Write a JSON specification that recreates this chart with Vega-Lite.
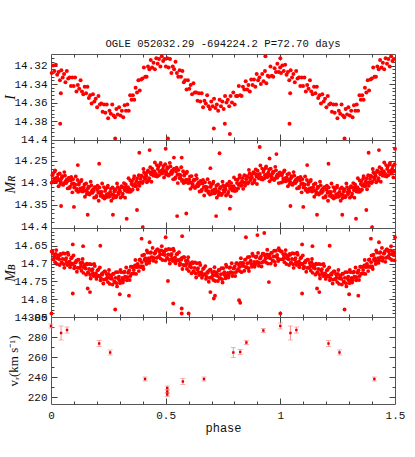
{
"$schema":"https://vega.github.io/schema/vega-lite/v6.json",
"padding":{"left":2,"top":38,"right":5,"bottom":5},
"background":"white",
"bounds":"flush",
"spacing":0,
"config":{"view":{"stroke":"#555","strokeWidth":1},"axis":{"domain":false,"grid":false,"tickColor":"#444","tickWidth":1,"labelFont":"Liberation Mono","labelFontSize":11,"labelColor":"#111","titleColor":"#111","titleFontWeight":"normal","labelFlush":false,"labelOverlap":false}},
"datasets":{
"T":[{"a":0}],
"I":[{"p":0.003,"m":14.328},{"p":0.009,"m":14.32},{"p":0.015,"m":14.326},{"p":0.021,"m":14.319},{"p":0.027,"m":14.33},{"p":0.033,"m":14.327},{"p":0.039,"m":14.336},{"p":0.045,"m":14.325},{"p":0.051,"m":14.333},{"p":0.057,"m":14.329},{"p":0.063,"m":14.338},{"p":0.069,"m":14.326},{"p":0.075,"m":14.334},{"p":0.081,"m":14.333},{"p":0.087,"m":14.342},{"p":0.093,"m":14.333},{"p":0.099,"m":14.342},{"p":0.105,"m":14.333},{"p":0.111,"m":14.348},{"p":0.117,"m":14.341},{"p":0.123,"m":14.345},{"p":0.129,"m":14.336},{"p":0.135,"m":14.348},{"p":0.141,"m":14.351},{"p":0.147,"m":14.343},{"p":0.153,"m":14.35},{"p":0.159,"m":14.343},{"p":0.165,"m":14.355},{"p":0.171,"m":14.352},{"p":0.177,"m":14.361},{"p":0.183,"m":14.351},{"p":0.189,"m":14.359},{"p":0.195,"m":14.356},{"p":0.201,"m":14.365},{"p":0.207,"m":14.353},{"p":0.213,"m":14.362},{"p":0.219,"m":14.361},{"p":0.225,"m":14.37},{"p":0.231,"m":14.362},{"p":0.237,"m":14.371},{"p":0.243,"m":14.362},{"p":0.249,"m":14.377},{"p":0.255,"m":14.369},{"p":0.261,"m":14.372},{"p":0.267,"m":14.362},{"p":0.273,"m":14.374},{"p":0.279,"m":14.376},{"p":0.285,"m":14.367},{"p":0.291,"m":14.373},{"p":0.297,"m":14.365},{"p":0.303,"m":14.374},{"p":0.309,"m":14.369},{"p":0.315,"m":14.376},{"p":0.321,"m":14.363},{"p":0.327,"m":14.369},{"p":0.333,"m":14.362},{"p":0.339,"m":14.369},{"p":0.345,"m":14.352},{"p":0.351,"m":14.357},{"p":0.357,"m":14.352},{"p":0.363,"m":14.357},{"p":0.369,"m":14.344},{"p":0.375,"m":14.349},{"p":0.381,"m":14.336},{"p":0.387,"m":14.347},{"p":0.393,"m":14.335},{"p":0.399,"m":14.334},{"p":0.405,"m":14.322},{"p":0.411,"m":14.332},{"p":0.417,"m":14.332},{"p":0.423,"m":14.321},{"p":0.429,"m":14.324},{"p":0.435,"m":14.314},{"p":0.441,"m":14.322},{"p":0.447,"m":14.317},{"p":0.453,"m":14.324},{"p":0.459,"m":14.312},{"p":0.465,"m":14.318},{"p":0.471,"m":14.313},{"p":0.477,"m":14.321},{"p":0.483,"m":14.31},{"p":0.489,"m":14.315},{"p":0.495,"m":14.313},{"p":0.501,"m":14.321},{"p":0.507,"m":14.312},{"p":0.513,"m":14.322},{"p":0.519,"m":14.313},{"p":0.525,"m":14.328},{"p":0.531,"m":14.321},{"p":0.537,"m":14.324},{"p":0.543,"m":14.316},{"p":0.549,"m":14.328},{"p":0.555,"m":14.332},{"p":0.561,"m":14.325},{"p":0.567,"m":14.332},{"p":0.573,"m":14.326},{"p":0.579,"m":14.338},{"p":0.585,"m":14.336},{"p":0.591,"m":14.346},{"p":0.597,"m":14.336},{"p":0.603,"m":14.345},{"p":0.609,"m":14.341},{"p":0.615,"m":14.351},{"p":0.621,"m":14.339},{"p":0.627,"m":14.349},{"p":0.633,"m":14.349},{"p":0.639,"m":14.358},{"p":0.645,"m":14.35},{"p":0.651,"m":14.359},{"p":0.657,"m":14.35},{"p":0.663,"m":14.365},{"p":0.669,"m":14.358},{"p":0.675,"m":14.361},{"p":0.681,"m":14.352},{"p":0.687,"m":14.364},{"p":0.693,"m":14.367},{"p":0.699,"m":14.359},{"p":0.705,"m":14.364},{"p":0.711,"m":14.356},{"p":0.717,"m":14.366},{"p":0.723,"m":14.362},{"p":0.729,"m":14.369},{"p":0.735,"m":14.357},{"p":0.741,"m":14.364},{"p":0.747,"m":14.359},{"p":0.753,"m":14.367},{"p":0.759,"m":14.353},{"p":0.765,"m":14.36},{"p":0.771,"m":14.357},{"p":0.777,"m":14.364},{"p":0.783,"m":14.353},{"p":0.789,"m":14.36},{"p":0.795,"m":14.349},{"p":0.801,"m":14.362},{"p":0.807,"m":14.353},{"p":0.813,"m":14.353},{"p":0.819,"m":14.342},{"p":0.825,"m":14.352},{"p":0.831,"m":14.353},{"p":0.837,"m":14.343},{"p":0.843,"m":14.346},{"p":0.849,"m":14.337},{"p":0.855,"m":14.346},{"p":0.861,"m":14.341},{"p":0.867,"m":14.348},{"p":0.873,"m":14.335},{"p":0.879,"m":14.341},{"p":0.885,"m":14.335},{"p":0.891,"m":14.343},{"p":0.897,"m":14.329},{"p":0.903,"m":14.336},{"p":0.909,"m":14.333},{"p":0.915,"m":14.34},{"p":0.921,"m":14.329},{"p":0.927,"m":14.337},{"p":0.933,"m":14.326},{"p":0.939,"m":14.339},{"p":0.945,"m":14.331},{"p":0.951,"m":14.332},{"p":0.957,"m":14.321},{"p":0.963,"m":14.331},{"p":0.969,"m":14.332},{"p":0.975,"m":14.323},{"p":0.981,"m":14.327},{"p":0.987,"m":14.318},{"p":0.993,"m":14.327},{"p":0.999,"m":14.322},
{"p":0.04,"m":14.383},{"p":0.043,"m":14.35},{"p":0.28,"m":14.399},{"p":0.51,"m":14.399},{"p":0.71,"m":14.388},{"p":0.758,"m":14.383},{"p":0.78,"m":14.394},{"p":0.935,"m":14.31},{"p":1.0,"m":14.312},{"p":1.04,"m":14.383},{"p":1.043,"m":14.35},{"p":1.28,"m":14.399},
{"p":1.003,"m":14.328},{"p":1.009,"m":14.32},{"p":1.015,"m":14.326},{"p":1.021,"m":14.319},{"p":1.027,"m":14.33},{"p":1.033,"m":14.327},{"p":1.039,"m":14.336},{"p":1.045,"m":14.325},{"p":1.051,"m":14.333},{"p":1.057,"m":14.329},{"p":1.063,"m":14.338},{"p":1.069,"m":14.326},{"p":1.075,"m":14.334},{"p":1.081,"m":14.333},{"p":1.087,"m":14.342},{"p":1.093,"m":14.333},{"p":1.099,"m":14.342},{"p":1.105,"m":14.333},{"p":1.111,"m":14.348},{"p":1.117,"m":14.341},{"p":1.123,"m":14.345},{"p":1.129,"m":14.336},{"p":1.135,"m":14.348},{"p":1.141,"m":14.351},{"p":1.147,"m":14.343},{"p":1.153,"m":14.35},{"p":1.159,"m":14.343},{"p":1.165,"m":14.355},{"p":1.171,"m":14.352},{"p":1.177,"m":14.361},{"p":1.183,"m":14.351},{"p":1.189,"m":14.359},{"p":1.195,"m":14.356},{"p":1.201,"m":14.365},{"p":1.207,"m":14.353},{"p":1.213,"m":14.362},{"p":1.219,"m":14.361},{"p":1.225,"m":14.37},{"p":1.231,"m":14.362},{"p":1.237,"m":14.371},{"p":1.243,"m":14.362},{"p":1.249,"m":14.377},{"p":1.255,"m":14.369},{"p":1.261,"m":14.372},{"p":1.267,"m":14.362},{"p":1.273,"m":14.374},{"p":1.279,"m":14.376},{"p":1.285,"m":14.367},{"p":1.291,"m":14.373},{"p":1.297,"m":14.365},{"p":1.303,"m":14.374},{"p":1.309,"m":14.369},{"p":1.315,"m":14.376},{"p":1.321,"m":14.363},{"p":1.327,"m":14.369},{"p":1.333,"m":14.362},{"p":1.339,"m":14.369},{"p":1.345,"m":14.352},{"p":1.351,"m":14.357},{"p":1.357,"m":14.352},{"p":1.363,"m":14.357},{"p":1.369,"m":14.344},{"p":1.375,"m":14.349},{"p":1.381,"m":14.336},{"p":1.387,"m":14.347},{"p":1.393,"m":14.335},{"p":1.399,"m":14.334},{"p":1.405,"m":14.322},{"p":1.411,"m":14.332},{"p":1.417,"m":14.332},{"p":1.423,"m":14.321},{"p":1.429,"m":14.324},{"p":1.435,"m":14.314},{"p":1.441,"m":14.322},{"p":1.447,"m":14.317},{"p":1.453,"m":14.324},{"p":1.459,"m":14.312},{"p":1.465,"m":14.318},{"p":1.471,"m":14.313},{"p":1.477,"m":14.321},{"p":1.483,"m":14.31},{"p":1.489,"m":14.315},{"p":1.495,"m":14.313}],
"R":[{"p":0.003,"m":14.300},{"p":0.008,"m":14.279},{"p":0.013,"m":14.291},{"p":0.018,"m":14.272},{"p":0.023,"m":14.297},{"p":0.028,"m":14.288},{"p":0.033,"m":14.308},{"p":0.038,"m":14.279},{"p":0.043,"m":14.298},{"p":0.048,"m":14.285},{"p":0.053,"m":14.305},{"p":0.058,"m":14.276},{"p":0.063,"m":14.297},{"p":0.068,"m":14.293},{"p":0.073,"m":14.313},{"p":0.078,"m":14.289},{"p":0.083,"m":14.309},{"p":0.088,"m":14.287},{"p":0.093,"m":14.322},{"p":0.098,"m":14.302},{"p":0.103,"m":14.309},{"p":0.108,"m":14.286},{"p":0.113,"m":14.314},{"p":0.118,"m":14.321},{"p":0.123,"m":14.300},{"p":0.128,"m":14.313},{"p":0.133,"m":14.294},{"p":0.138,"m":14.320},{"p":0.143,"m":14.311},{"p":0.148,"m":14.332},{"p":0.153,"m":14.302},{"p":0.158,"m":14.321},{"p":0.163,"m":14.309},{"p":0.168,"m":14.327},{"p":0.173,"m":14.298},{"p":0.178,"m":14.319},{"p":0.183,"m":14.315},{"p":0.188,"m":14.334},{"p":0.193,"m":14.310},{"p":0.198,"m":14.330},{"p":0.203,"m":14.307},{"p":0.208,"m":14.341},{"p":0.213,"m":14.321},{"p":0.218,"m":14.326},{"p":0.223,"m":14.302},{"p":0.228,"m":14.330},{"p":0.233,"m":14.336},{"p":0.238,"m":14.314},{"p":0.243,"m":14.327},{"p":0.248,"m":14.307},{"p":0.253,"m":14.332},{"p":0.258,"m":14.321},{"p":0.263,"m":14.341},{"p":0.268,"m":14.311},{"p":0.273,"m":14.328},{"p":0.278,"m":14.315},{"p":0.283,"m":14.333},{"p":0.288,"m":14.302},{"p":0.293,"m":14.322},{"p":0.298,"m":14.316},{"p":0.303,"m":14.334},{"p":0.308,"m":14.308},{"p":0.313,"m":14.325},{"p":0.318,"m":14.301},{"p":0.323,"m":14.334},{"p":0.328,"m":14.311},{"p":0.333,"m":14.315},{"p":0.338,"m":14.290},{"p":0.343,"m":14.315},{"p":0.348,"m":14.320},{"p":0.353,"m":14.297},{"p":0.358,"m":14.307},{"p":0.363,"m":14.285},{"p":0.368,"m":14.308},{"p":0.373,"m":14.297},{"p":0.378,"m":14.315},{"p":0.383,"m":14.283},{"p":0.388,"m":14.299},{"p":0.393,"m":14.284},{"p":0.398,"m":14.301},{"p":0.403,"m":14.269},{"p":0.408,"m":14.288},{"p":0.413,"m":14.281},{"p":0.418,"m":14.299},{"p":0.423,"m":14.272},{"p":0.428,"m":14.290},{"p":0.433,"m":14.265},{"p":0.438,"m":14.298},{"p":0.443,"m":14.275},{"p":0.448,"m":14.279},{"p":0.453,"m":14.254},{"p":0.458,"m":14.280},{"p":0.463,"m":14.286},{"p":0.468,"m":14.264},{"p":0.473,"m":14.275},{"p":0.478,"m":14.255},{"p":0.483,"m":14.279},{"p":0.488,"m":14.269},{"p":0.493,"m":14.288},{"p":0.498,"m":14.258},{"p":0.503,"m":14.277},{"p":0.508,"m":14.265},{"p":0.513,"m":14.284},{"p":0.518,"m":14.255},{"p":0.523,"m":14.276},{"p":0.528,"m":14.272},{"p":0.533,"m":14.292},{"p":0.538,"m":14.268},{"p":0.543,"m":14.288},{"p":0.548,"m":14.266},{"p":0.553,"m":14.301},{"p":0.558,"m":14.281},{"p":0.563,"m":14.288},{"p":0.568,"m":14.265},{"p":0.573,"m":14.294},{"p":0.578,"m":14.301},{"p":0.583,"m":14.280},{"p":0.588,"m":14.294},{"p":0.593,"m":14.275},{"p":0.598,"m":14.301},{"p":0.603,"m":14.293},{"p":0.608,"m":14.314},{"p":0.613,"m":14.285},{"p":0.618,"m":14.304},{"p":0.623,"m":14.293},{"p":0.628,"m":14.312},{"p":0.633,"m":14.283},{"p":0.638,"m":14.304},{"p":0.643,"m":14.300},{"p":0.648,"m":14.320},{"p":0.653,"m":14.296},{"p":0.658,"m":14.316},{"p":0.663,"m":14.294},{"p":0.668,"m":14.329},{"p":0.673,"m":14.309},{"p":0.678,"m":14.315},{"p":0.683,"m":14.292},{"p":0.688,"m":14.320},{"p":0.693,"m":14.327},{"p":0.698,"m":14.306},{"p":0.703,"m":14.318},{"p":0.708,"m":14.298},{"p":0.713,"m":14.324},{"p":0.718,"m":14.314},{"p":0.723,"m":14.334},{"p":0.728,"m":14.304},{"p":0.733,"m":14.322},{"p":0.738,"m":14.310},{"p":0.743,"m":14.328},{"p":0.748,"m":14.298},{"p":0.753,"m":14.317},{"p":0.758,"m":14.311},{"p":0.763,"m":14.329},{"p":0.768,"m":14.303},{"p":0.773,"m":14.321},{"p":0.778,"m":14.298},{"p":0.783,"m":14.331},{"p":0.788,"m":14.309},{"p":0.793,"m":14.313},{"p":0.798,"m":14.288},{"p":0.803,"m":14.313},{"p":0.808,"m":14.318},{"p":0.813,"m":14.294},{"p":0.818,"m":14.305},{"p":0.823,"m":14.283},{"p":0.828,"m":14.307},{"p":0.833,"m":14.296},{"p":0.838,"m":14.314},{"p":0.843,"m":14.283},{"p":0.848,"m":14.300},{"p":0.853,"m":14.285},{"p":0.858,"m":14.302},{"p":0.863,"m":14.271},{"p":0.868,"m":14.290},{"p":0.873,"m":14.284},{"p":0.878,"m":14.302},{"p":0.883,"m":14.276},{"p":0.888,"m":14.294},{"p":0.893,"m":14.270},{"p":0.898,"m":14.303},{"p":0.903,"m":14.281},{"p":0.908,"m":14.285},{"p":0.913,"m":14.261},{"p":0.918,"m":14.288},{"p":0.923,"m":14.293},{"p":0.928,"m":14.271},{"p":0.933,"m":14.283},{"p":0.938,"m":14.263},{"p":0.943,"m":14.287},{"p":0.948,"m":14.277},{"p":0.953,"m":14.297},{"p":0.958,"m":14.268},{"p":0.963,"m":14.287},{"p":0.968,"m":14.275},{"p":0.973,"m":14.294},{"p":0.978,"m":14.264},{"p":0.983,"m":14.285},{"p":0.988,"m":14.281},{"p":0.993,"m":14.301},{"p":0.998,"m":14.277},
{"p":0.006,"m":14.283},{"p":0.011,"m":14.298},{"p":0.016,"m":14.275},{"p":0.021,"m":14.290},{"p":0.026,"m":14.296},{"p":0.031,"m":14.281},{"p":0.036,"m":14.294},{"p":0.041,"m":14.303},{"p":0.046,"m":14.290},{"p":0.051,"m":14.286},{"p":0.056,"m":14.302},{"p":0.061,"m":14.284},{"p":0.066,"m":14.301},{"p":0.071,"m":14.297},{"p":0.076,"m":14.290},{"p":0.081,"m":14.312},{"p":0.086,"m":14.295},{"p":0.091,"m":14.303},{"p":0.096,"m":14.292},{"p":0.101,"m":14.311},{"p":0.106,"m":14.304},{"p":0.111,"m":14.317},{"p":0.116,"m":14.294},{"p":0.121,"m":14.304},{"p":0.126,"m":14.319},{"p":0.131,"m":14.297},{"p":0.136,"m":14.312},{"p":0.141,"m":14.319},{"p":0.146,"m":14.304},{"p":0.151,"m":14.318},{"p":0.156,"m":14.326},{"p":0.161,"m":14.313},{"p":0.166,"m":14.310},{"p":0.171,"m":14.324},{"p":0.176,"m":14.306},{"p":0.181,"m":14.323},{"p":0.186,"m":14.319},{"p":0.191,"m":14.311},{"p":0.196,"m":14.333},{"p":0.201,"m":14.316},{"p":0.206,"m":14.323},{"p":0.211,"m":14.311},{"p":0.216,"m":14.330},{"p":0.221,"m":14.321},{"p":0.226,"m":14.333},{"p":0.231,"m":14.310},{"p":0.236,"m":14.319},{"p":0.241,"m":14.333},{"p":0.246,"m":14.311},{"p":0.251,"m":14.325},{"p":0.256,"m":14.331},{"p":0.261,"m":14.314},{"p":0.266,"m":14.327},{"p":0.271,"m":14.335},{"p":0.276,"m":14.320},{"p":0.281,"m":14.316},{"p":0.286,"m":14.330},{"p":0.291,"m":14.310},{"p":0.296,"m":14.326},{"p":0.301,"m":14.320},{"p":0.306,"m":14.311},{"p":0.311,"m":14.331},{"p":0.316,"m":14.311},{"p":0.321,"m":14.317},{"p":0.326,"m":14.304},{"p":0.331,"m":14.320},{"p":0.336,"m":14.310},{"p":0.341,"m":14.321},{"p":0.346,"m":14.295},{"p":0.351,"m":14.303},{"p":0.356,"m":14.316},{"p":0.361,"m":14.291},{"p":0.366,"m":14.303},{"p":0.371,"m":14.307},{"p":0.376,"m":14.290},{"p":0.381,"m":14.301},{"p":0.386,"m":14.307},{"p":0.391,"m":14.291},{"p":0.396,"m":14.285},{"p":0.401,"m":14.298},{"p":0.406,"m":14.277},{"p":0.411,"m":14.292},{"p":0.416,"m":14.285},{"p":0.421,"m":14.276},{"p":0.426,"m":14.295},{"p":0.431,"m":14.276},{"p":0.436,"m":14.281},{"p":0.441,"m":14.268},{"p":0.446,"m":14.284},{"p":0.451,"m":14.274},{"p":0.456,"m":14.285},{"p":0.461,"m":14.260},{"p":0.466,"m":14.269},{"p":0.471,"m":14.283},{"p":0.476,"m":14.259},{"p":0.481,"m":14.273},{"p":0.486,"m":14.278},{"p":0.491,"m":14.262},{"p":0.496,"m":14.274},{"p":0.501,"m":14.282},{"p":0.506,"m":14.269},{"p":0.511,"m":14.266},{"p":0.516,"m":14.281},{"p":0.521,"m":14.263},{"p":0.526,"m":14.280},{"p":0.531,"m":14.276},{"p":0.536,"m":14.269},{"p":0.541,"m":14.291},{"p":0.546,"m":14.274},{"p":0.551,"m":14.282},{"p":0.556,"m":14.271},{"p":0.561,"m":14.290},{"p":0.566,"m":14.283},{"p":0.571,"m":14.296},{"p":0.576,"m":14.274},{"p":0.581,"m":14.284},{"p":0.586,"m":14.299},{"p":0.591,"m":14.278},{"p":0.596,"m":14.293},{"p":0.601,"m":14.300},{"p":0.606,"m":14.286},{"p":0.611,"m":14.300},{"p":0.616,"m":14.309},{"p":0.621,"m":14.296},{"p":0.626,"m":14.294},{"p":0.631,"m":14.309},{"p":0.636,"m":14.291},{"p":0.641,"m":14.308},{"p":0.646,"m":14.304},{"p":0.651,"m":14.297},{"p":0.656,"m":14.319},{"p":0.661,"m":14.302},{"p":0.666,"m":14.310},{"p":0.671,"m":14.299},{"p":0.676,"m":14.318},{"p":0.681,"m":14.310},{"p":0.686,"m":14.323},{"p":0.691,"m":14.300},{"p":0.696,"m":14.310},{"p":0.701,"m":14.325},{"p":0.706,"m":14.302},{"p":0.711,"m":14.316},{"p":0.716,"m":14.323},{"p":0.721,"m":14.307},{"p":0.726,"m":14.320},{"p":0.731,"m":14.328},{"p":0.736,"m":14.314},{"p":0.741,"m":14.311},{"p":0.746,"m":14.325},{"p":0.751,"m":14.306},{"p":0.756,"m":14.321},{"p":0.761,"m":14.315},{"p":0.766,"m":14.306},{"p":0.771,"m":14.326},{"p":0.776,"m":14.307},{"p":0.781,"m":14.314},{"p":0.786,"m":14.301},{"p":0.791,"m":14.318},{"p":0.796,"m":14.308},{"p":0.801,"m":14.319},{"p":0.806,"m":14.293},{"p":0.811,"m":14.301},{"p":0.816,"m":14.313},{"p":0.821,"m":14.289},{"p":0.826,"m":14.301},{"p":0.831,"m":14.306},{"p":0.836,"m":14.289},{"p":0.841,"m":14.300},{"p":0.846,"m":14.307},{"p":0.851,"m":14.292},{"p":0.856,"m":14.286},{"p":0.861,"m":14.299},{"p":0.866,"m":14.279},{"p":0.871,"m":14.294},{"p":0.876,"m":14.288},{"p":0.881,"m":14.279},{"p":0.886,"m":14.299},{"p":0.891,"m":14.280},{"p":0.896,"m":14.286},{"p":0.901,"m":14.273},{"p":0.906,"m":14.290},{"p":0.911,"m":14.280},{"p":0.916,"m":14.292},{"p":0.921,"m":14.268},{"p":0.926,"m":14.276},{"p":0.931,"m":14.290},{"p":0.936,"m":14.267},{"p":0.941,"m":14.281},{"p":0.946,"m":14.286},{"p":0.951,"m":14.270},{"p":0.956,"m":14.283},{"p":0.961,"m":14.292},{"p":0.966,"m":14.279},{"p":0.971,"m":14.276},{"p":0.976,"m":14.291},{"p":0.981,"m":14.272},{"p":0.986,"m":14.289},{"p":0.991,"m":14.285},{"p":0.996,"m":14.278},
{"p":0.044,"m":14.353},{"p":0.1,"m":14.355},{"p":0.117,"m":14.26},{"p":0.16,"m":14.373},{"p":0.21,"m":14.257},{"p":0.27,"m":14.373},{"p":0.33,"m":14.382},{"p":0.375,"m":14.362},{"p":0.385,"m":14.232},{"p":0.4,"m":14.401},{"p":0.43,"m":14.226},{"p":0.5,"m":14.223},{"p":0.536,"m":14.243},{"p":0.55,"m":14.376},{"p":0.57,"m":14.243},{"p":0.59,"m":14.37},{"p":0.695,"m":14.267},{"p":0.72,"m":14.376},{"p":0.735,"m":14.233},{"p":0.78,"m":14.359},{"p":0.91,"m":14.219},{"p":0.953,"m":14.245},{"p":0.983,"m":14.235},
{"p":1.044,"m":14.353},{"p":1.1,"m":14.355},{"p":1.117,"m":14.26},{"p":1.16,"m":14.373},{"p":1.21,"m":14.257},{"p":1.27,"m":14.373},{"p":1.33,"m":14.382},{"p":1.375,"m":14.362},{"p":1.385,"m":14.232},{"p":1.4,"m":14.401},{"p":1.43,"m":14.226},{"p":1.5,"m":14.223},
{"p":1.003,"m":14.300},{"p":1.008,"m":14.279},{"p":1.013,"m":14.291},{"p":1.018,"m":14.272},{"p":1.023,"m":14.297},{"p":1.028,"m":14.288},{"p":1.033,"m":14.308},{"p":1.038,"m":14.279},{"p":1.043,"m":14.298},{"p":1.048,"m":14.285},{"p":1.053,"m":14.305},{"p":1.058,"m":14.276},{"p":1.063,"m":14.297},{"p":1.068,"m":14.293},{"p":1.073,"m":14.313},{"p":1.078,"m":14.289},{"p":1.083,"m":14.309},{"p":1.088,"m":14.287},{"p":1.093,"m":14.322},{"p":1.098,"m":14.302},{"p":1.103,"m":14.309},{"p":1.108,"m":14.286},{"p":1.113,"m":14.314},{"p":1.118,"m":14.321},{"p":1.123,"m":14.300},{"p":1.128,"m":14.313},{"p":1.133,"m":14.294},{"p":1.138,"m":14.320},{"p":1.143,"m":14.311},{"p":1.148,"m":14.332},{"p":1.153,"m":14.302},{"p":1.158,"m":14.321},{"p":1.163,"m":14.309},{"p":1.168,"m":14.327},{"p":1.173,"m":14.298},{"p":1.178,"m":14.319},{"p":1.183,"m":14.315},{"p":1.188,"m":14.334},{"p":1.193,"m":14.310},{"p":1.198,"m":14.330},{"p":1.203,"m":14.307},{"p":1.208,"m":14.341},{"p":1.213,"m":14.321},{"p":1.218,"m":14.326},{"p":1.223,"m":14.302},{"p":1.228,"m":14.330},{"p":1.233,"m":14.336},{"p":1.238,"m":14.314},{"p":1.243,"m":14.327},{"p":1.248,"m":14.307},{"p":1.253,"m":14.332},{"p":1.258,"m":14.321},{"p":1.263,"m":14.341},{"p":1.268,"m":14.311},{"p":1.273,"m":14.328},{"p":1.278,"m":14.315},{"p":1.283,"m":14.333},{"p":1.288,"m":14.302},{"p":1.293,"m":14.322},{"p":1.298,"m":14.316},{"p":1.303,"m":14.334},{"p":1.308,"m":14.308},{"p":1.313,"m":14.325},{"p":1.318,"m":14.301},{"p":1.323,"m":14.334},{"p":1.328,"m":14.311},{"p":1.333,"m":14.315},{"p":1.338,"m":14.290},{"p":1.343,"m":14.315},{"p":1.348,"m":14.320},{"p":1.353,"m":14.297},{"p":1.358,"m":14.307},{"p":1.363,"m":14.285},{"p":1.368,"m":14.308},{"p":1.373,"m":14.297},{"p":1.378,"m":14.315},{"p":1.383,"m":14.283},{"p":1.388,"m":14.299},{"p":1.393,"m":14.284},{"p":1.398,"m":14.301},{"p":1.403,"m":14.269},{"p":1.408,"m":14.288},{"p":1.413,"m":14.281},{"p":1.418,"m":14.299},{"p":1.423,"m":14.272},{"p":1.428,"m":14.290},{"p":1.433,"m":14.265},{"p":1.438,"m":14.298},{"p":1.443,"m":14.275},{"p":1.448,"m":14.279},{"p":1.453,"m":14.254},{"p":1.458,"m":14.280},{"p":1.463,"m":14.286},{"p":1.468,"m":14.264},{"p":1.473,"m":14.275},{"p":1.478,"m":14.255},{"p":1.483,"m":14.279},{"p":1.488,"m":14.269},{"p":1.493,"m":14.288},{"p":1.498,"m":14.258},
{"p":1.006,"m":14.283},{"p":1.011,"m":14.298},{"p":1.016,"m":14.275},{"p":1.021,"m":14.290},{"p":1.026,"m":14.296},{"p":1.031,"m":14.281},{"p":1.036,"m":14.294},{"p":1.041,"m":14.303},{"p":1.046,"m":14.290},{"p":1.051,"m":14.286},{"p":1.056,"m":14.302},{"p":1.061,"m":14.284},{"p":1.066,"m":14.301},{"p":1.071,"m":14.297},{"p":1.076,"m":14.290},{"p":1.081,"m":14.312},{"p":1.086,"m":14.295},{"p":1.091,"m":14.303},{"p":1.096,"m":14.292},{"p":1.101,"m":14.311},{"p":1.106,"m":14.304},{"p":1.111,"m":14.317},{"p":1.116,"m":14.294},{"p":1.121,"m":14.304},{"p":1.126,"m":14.319},{"p":1.131,"m":14.297},{"p":1.136,"m":14.312},{"p":1.141,"m":14.319},{"p":1.146,"m":14.304},{"p":1.151,"m":14.318},{"p":1.156,"m":14.326},{"p":1.161,"m":14.313},{"p":1.166,"m":14.310},{"p":1.171,"m":14.324},{"p":1.176,"m":14.306},{"p":1.181,"m":14.323},{"p":1.186,"m":14.319},{"p":1.191,"m":14.311},{"p":1.196,"m":14.333},{"p":1.201,"m":14.316},{"p":1.206,"m":14.323},{"p":1.211,"m":14.311},{"p":1.216,"m":14.330},{"p":1.221,"m":14.321},{"p":1.226,"m":14.333},{"p":1.231,"m":14.310},{"p":1.236,"m":14.319},{"p":1.241,"m":14.333},{"p":1.246,"m":14.311},{"p":1.251,"m":14.325},{"p":1.256,"m":14.331},{"p":1.261,"m":14.314},{"p":1.266,"m":14.327},{"p":1.271,"m":14.335},{"p":1.276,"m":14.320},{"p":1.281,"m":14.316},{"p":1.286,"m":14.330},{"p":1.291,"m":14.310},{"p":1.296,"m":14.326},{"p":1.301,"m":14.320},{"p":1.306,"m":14.311},{"p":1.311,"m":14.331},{"p":1.316,"m":14.311},{"p":1.321,"m":14.317},{"p":1.326,"m":14.304},{"p":1.331,"m":14.320},{"p":1.336,"m":14.310},{"p":1.341,"m":14.321},{"p":1.346,"m":14.295},{"p":1.351,"m":14.303},{"p":1.356,"m":14.316},{"p":1.361,"m":14.291},{"p":1.366,"m":14.303},{"p":1.371,"m":14.307},{"p":1.376,"m":14.290},{"p":1.381,"m":14.301},{"p":1.386,"m":14.307},{"p":1.391,"m":14.291},{"p":1.396,"m":14.285},{"p":1.401,"m":14.298},{"p":1.406,"m":14.277},{"p":1.411,"m":14.292},{"p":1.416,"m":14.285},{"p":1.421,"m":14.276},{"p":1.426,"m":14.295},{"p":1.431,"m":14.276},{"p":1.436,"m":14.281},{"p":1.441,"m":14.268},{"p":1.446,"m":14.284},{"p":1.451,"m":14.274},{"p":1.456,"m":14.285},{"p":1.461,"m":14.260},{"p":1.466,"m":14.269},{"p":1.471,"m":14.283},{"p":1.476,"m":14.259},{"p":1.481,"m":14.273},{"p":1.486,"m":14.278},{"p":1.491,"m":14.262},{"p":1.496,"m":14.274}],
"B":[{"p":0.003,"m":14.666},{"p":0.008,"m":14.688},{"p":0.013,"m":14.674},{"p":0.018,"m":14.696},{"p":0.023,"m":14.662},{"p":0.028,"m":14.685},{"p":0.033,"m":14.680},{"p":0.038,"m":14.704},{"p":0.043,"m":14.675},{"p":0.048,"m":14.698},{"p":0.053,"m":14.671},{"p":0.058,"m":14.712},{"p":0.063,"m":14.689},{"p":0.068,"m":14.696},{"p":0.073,"m":14.669},{"p":0.078,"m":14.701},{"p":0.083,"m":14.710},{"p":0.088,"m":14.685},{"p":0.093,"m":14.700},{"p":0.098,"m":14.677},{"p":0.103,"m":14.708},{"p":0.108,"m":14.697},{"p":0.113,"m":14.723},{"p":0.118,"m":14.689},{"p":0.123,"m":14.712},{"p":0.128,"m":14.698},{"p":0.133,"m":14.720},{"p":0.138,"m":14.687},{"p":0.143,"m":14.711},{"p":0.148,"m":14.706},{"p":0.153,"m":14.731},{"p":0.158,"m":14.702},{"p":0.163,"m":14.726},{"p":0.168,"m":14.701},{"p":0.173,"m":14.742},{"p":0.178,"m":14.720},{"p":0.183,"m":14.727},{"p":0.188,"m":14.701},{"p":0.193,"m":14.734},{"p":0.198,"m":14.743},{"p":0.203,"m":14.719},{"p":0.208,"m":14.734},{"p":0.213,"m":14.711},{"p":0.218,"m":14.741},{"p":0.223,"m":14.731},{"p":0.228,"m":14.756},{"p":0.233,"m":14.722},{"p":0.238,"m":14.744},{"p":0.243,"m":14.730},{"p":0.248,"m":14.752},{"p":0.253,"m":14.718},{"p":0.258,"m":14.741},{"p":0.263,"m":14.735},{"p":0.268,"m":14.759},{"p":0.273,"m":14.729},{"p":0.278,"m":14.751},{"p":0.283,"m":14.724},{"p":0.288,"m":14.764},{"p":0.293,"m":14.741},{"p":0.298,"m":14.747},{"p":0.303,"m":14.718},{"p":0.308,"m":14.747},{"p":0.313,"m":14.753},{"p":0.318,"m":14.725},{"p":0.323,"m":14.737},{"p":0.328,"m":14.711},{"p":0.333,"m":14.738},{"p":0.338,"m":14.724},{"p":0.343,"m":14.746},{"p":0.348,"m":14.709},{"p":0.353,"m":14.728},{"p":0.358,"m":14.710},{"p":0.363,"m":14.728},{"p":0.368,"m":14.690},{"p":0.373,"m":14.710},{"p":0.378,"m":14.701},{"p":0.383,"m":14.721},{"p":0.388,"m":14.688},{"p":0.393,"m":14.707},{"p":0.398,"m":14.677},{"p":0.403,"m":14.715},{"p":0.408,"m":14.689},{"p":0.413,"m":14.693},{"p":0.418,"m":14.663},{"p":0.423,"m":14.692},{"p":0.428,"m":14.698},{"p":0.433,"m":14.670},{"p":0.438,"m":14.682},{"p":0.443,"m":14.656},{"p":0.448,"m":14.684},{"p":0.453,"m":14.671},{"p":0.458,"m":14.695},{"p":0.463,"m":14.660},{"p":0.468,"m":14.681},{"p":0.473,"m":14.666},{"p":0.478,"m":14.686},{"p":0.483,"m":14.651},{"p":0.488,"m":14.674},{"p":0.493,"m":14.668},{"p":0.498,"m":14.691},{"p":0.503,"m":14.662},{"p":0.508,"m":14.685},{"p":0.513,"m":14.659},{"p":0.518,"m":14.700},{"p":0.523,"m":14.677},{"p":0.528,"m":14.685},{"p":0.533,"m":14.658},{"p":0.538,"m":14.690},{"p":0.543,"m":14.699},{"p":0.548,"m":14.674},{"p":0.553,"m":14.690},{"p":0.558,"m":14.668},{"p":0.563,"m":14.699},{"p":0.568,"m":14.689},{"p":0.573,"m":14.715},{"p":0.578,"m":14.682},{"p":0.583,"m":14.705},{"p":0.588,"m":14.692},{"p":0.593,"m":14.715},{"p":0.598,"m":14.682},{"p":0.603,"m":14.707},{"p":0.608,"m":14.703},{"p":0.613,"m":14.727},{"p":0.618,"m":14.699},{"p":0.623,"m":14.723},{"p":0.628,"m":14.697},{"p":0.633,"m":14.739},{"p":0.638,"m":14.717},{"p":0.643,"m":14.724},{"p":0.648,"m":14.698},{"p":0.653,"m":14.731},{"p":0.658,"m":14.740},{"p":0.663,"m":14.715},{"p":0.668,"m":14.730},{"p":0.673,"m":14.707},{"p":0.678,"m":14.737},{"p":0.683,"m":14.726},{"p":0.688,"m":14.751},{"p":0.693,"m":14.717},{"p":0.698,"m":14.739},{"p":0.703,"m":14.725},{"p":0.708,"m":14.746},{"p":0.713,"m":14.710},{"p":0.718,"m":14.733},{"p":0.723,"m":14.727},{"p":0.728,"m":14.749},{"p":0.733,"m":14.719},{"p":0.738,"m":14.741},{"p":0.743,"m":14.713},{"p":0.748,"m":14.753},{"p":0.753,"m":14.728},{"p":0.758,"m":14.733},{"p":0.763,"m":14.703},{"p":0.768,"m":14.733},{"p":0.773,"m":14.739},{"p":0.778,"m":14.712},{"p":0.783,"m":14.724},{"p":0.788,"m":14.699},{"p":0.793,"m":14.726},{"p":0.798,"m":14.713},{"p":0.803,"m":14.735},{"p":0.808,"m":14.699},{"p":0.813,"m":14.718},{"p":0.818,"m":14.702},{"p":0.823,"m":14.721},{"p":0.828,"m":14.685},{"p":0.833,"m":14.706},{"p":0.838,"m":14.699},{"p":0.843,"m":14.720},{"p":0.848,"m":14.689},{"p":0.853,"m":14.710},{"p":0.858,"m":14.682},{"p":0.863,"m":14.721},{"p":0.868,"m":14.696},{"p":0.873,"m":14.701},{"p":0.878,"m":14.672},{"p":0.883,"m":14.702},{"p":0.888,"m":14.709},{"p":0.893,"m":14.682},{"p":0.898,"m":14.695},{"p":0.903,"m":14.670},{"p":0.908,"m":14.698},{"p":0.913,"m":14.685},{"p":0.918,"m":14.708},{"p":0.923,"m":14.672},{"p":0.928,"m":14.693},{"p":0.933,"m":14.677},{"p":0.938,"m":14.697},{"p":0.943,"m":14.661},{"p":0.948,"m":14.683},{"p":0.953,"m":14.677},{"p":0.958,"m":14.700},{"p":0.963,"m":14.670},{"p":0.968,"m":14.691},{"p":0.973,"m":14.664},{"p":0.978,"m":14.704},{"p":0.983,"m":14.680},{"p":0.988,"m":14.685},{"p":0.993,"m":14.657},{"p":0.998,"m":14.688},
{"p":0.006,"m":14.666},{"p":0.011,"m":14.688},{"p":0.016,"m":14.682},{"p":0.021,"m":14.673},{"p":0.026,"m":14.701},{"p":0.031,"m":14.677},{"p":0.036,"m":14.688},{"p":0.041,"m":14.673},{"p":0.046,"m":14.697},{"p":0.051,"m":14.687},{"p":0.056,"m":14.702},{"p":0.061,"m":14.672},{"p":0.066,"m":14.685},{"p":0.071,"m":14.704},{"p":0.076,"m":14.675},{"p":0.081,"m":14.694},{"p":0.086,"m":14.703},{"p":0.091,"m":14.683},{"p":0.096,"m":14.701},{"p":0.101,"m":14.713},{"p":0.106,"m":14.696},{"p":0.111,"m":14.692},{"p":0.116,"m":14.712},{"p":0.121,"m":14.689},{"p":0.126,"m":14.712},{"p":0.131,"m":14.706},{"p":0.136,"m":14.697},{"p":0.141,"m":14.726},{"p":0.146,"m":14.703},{"p":0.151,"m":14.714},{"p":0.156,"m":14.700},{"p":0.161,"m":14.724},{"p":0.166,"m":14.715},{"p":0.171,"m":14.732},{"p":0.176,"m":14.702},{"p":0.181,"m":14.716},{"p":0.186,"m":14.735},{"p":0.191,"m":14.707},{"p":0.196,"m":14.727},{"p":0.201,"m":14.736},{"p":0.206,"m":14.717},{"p":0.211,"m":14.735},{"p":0.216,"m":14.747},{"p":0.221,"m":14.729},{"p":0.226,"m":14.726},{"p":0.231,"m":14.745},{"p":0.236,"m":14.722},{"p":0.241,"m":14.744},{"p":0.246,"m":14.738},{"p":0.251,"m":14.729},{"p":0.256,"m":14.757},{"p":0.261,"m":14.733},{"p":0.266,"m":14.743},{"p":0.271,"m":14.728},{"p":0.276,"m":14.751},{"p":0.281,"m":14.740},{"p":0.286,"m":14.755},{"p":0.291,"m":14.724},{"p":0.296,"m":14.737},{"p":0.301,"m":14.755},{"p":0.306,"m":14.724},{"p":0.311,"m":14.740},{"p":0.316,"m":14.746},{"p":0.321,"m":14.723},{"p":0.326,"m":14.738},{"p":0.331,"m":14.747},{"p":0.336,"m":14.726},{"p":0.341,"m":14.719},{"p":0.346,"m":14.735},{"p":0.351,"m":14.709},{"p":0.356,"m":14.728},{"p":0.361,"m":14.718},{"p":0.366,"m":14.705},{"p":0.371,"m":14.729},{"p":0.376,"m":14.702},{"p":0.381,"m":14.709},{"p":0.386,"m":14.690},{"p":0.391,"m":14.710},{"p":0.396,"m":14.696},{"p":0.401,"m":14.708},{"p":0.406,"m":14.675},{"p":0.411,"m":14.685},{"p":0.416,"m":14.701},{"p":0.421,"m":14.669},{"p":0.426,"m":14.685},{"p":0.431,"m":14.691},{"p":0.436,"m":14.668},{"p":0.441,"m":14.683},{"p":0.446,"m":14.692},{"p":0.451,"m":14.672},{"p":0.456,"m":14.666},{"p":0.461,"m":14.684},{"p":0.466,"m":14.660},{"p":0.471,"m":14.681},{"p":0.476,"m":14.674},{"p":0.481,"m":14.663},{"p":0.486,"m":14.690},{"p":0.491,"m":14.666},{"p":0.496,"m":14.676},{"p":0.501,"m":14.660},{"p":0.506,"m":14.684},{"p":0.511,"m":14.674},{"p":0.516,"m":14.690},{"p":0.521,"m":14.660},{"p":0.526,"m":14.673},{"p":0.531,"m":14.693},{"p":0.536,"m":14.664},{"p":0.541,"m":14.683},{"p":0.546,"m":14.692},{"p":0.551,"m":14.672},{"p":0.556,"m":14.691},{"p":0.561,"m":14.704},{"p":0.566,"m":14.687},{"p":0.571,"m":14.684},{"p":0.576,"m":14.704},{"p":0.581,"m":14.682},{"p":0.586,"m":14.705},{"p":0.591,"m":14.700},{"p":0.596,"m":14.692},{"p":0.601,"m":14.721},{"p":0.606,"m":14.699},{"p":0.611,"m":14.711},{"p":0.616,"m":14.696},{"p":0.621,"m":14.721},{"p":0.626,"m":14.712},{"p":0.631,"m":14.728},{"p":0.636,"m":14.699},{"p":0.641,"m":14.713},{"p":0.646,"m":14.732},{"p":0.651,"m":14.704},{"p":0.656,"m":14.724},{"p":0.661,"m":14.733},{"p":0.666,"m":14.713},{"p":0.671,"m":14.731},{"p":0.676,"m":14.743},{"p":0.681,"m":14.725},{"p":0.686,"m":14.721},{"p":0.691,"m":14.740},{"p":0.696,"m":14.717},{"p":0.701,"m":14.739},{"p":0.706,"m":14.733},{"p":0.711,"m":14.723},{"p":0.716,"m":14.749},{"p":0.721,"m":14.725},{"p":0.726,"m":14.735},{"p":0.731,"m":14.718},{"p":0.736,"m":14.741},{"p":0.741,"m":14.730},{"p":0.746,"m":14.744},{"p":0.751,"m":14.713},{"p":0.756,"m":14.724},{"p":0.761,"m":14.741},{"p":0.766,"m":14.709},{"p":0.771,"m":14.726},{"p":0.776,"m":14.732},{"p":0.781,"m":14.710},{"p":0.786,"m":14.725},{"p":0.791,"m":14.735},{"p":0.796,"m":14.714},{"p":0.801,"m":14.708},{"p":0.806,"m":14.724},{"p":0.811,"m":14.699},{"p":0.816,"m":14.718},{"p":0.821,"m":14.710},{"p":0.826,"m":14.698},{"p":0.831,"m":14.724},{"p":0.836,"m":14.698},{"p":0.841,"m":14.707},{"p":0.846,"m":14.689},{"p":0.851,"m":14.711},{"p":0.856,"m":14.699},{"p":0.861,"m":14.713},{"p":0.866,"m":14.681},{"p":0.871,"m":14.692},{"p":0.876,"m":14.709},{"p":0.881,"m":14.678},{"p":0.886,"m":14.695},{"p":0.891,"m":14.702},{"p":0.896,"m":14.680},{"p":0.901,"m":14.696},{"p":0.906,"m":14.706},{"p":0.911,"m":14.686},{"p":0.916,"m":14.680},{"p":0.921,"m":14.697},{"p":0.926,"m":14.672},{"p":0.931,"m":14.693},{"p":0.936,"m":14.685},{"p":0.941,"m":14.674},{"p":0.946,"m":14.700},{"p":0.951,"m":14.675},{"p":0.956,"m":14.685},{"p":0.961,"m":14.669},{"p":0.966,"m":14.692},{"p":0.971,"m":14.680},{"p":0.976,"m":14.695},{"p":0.981,"m":14.664},{"p":0.986,"m":14.676},{"p":0.991,"m":14.693},{"p":0.996,"m":14.663},
{"p":0.002,"m":14.84},{"p":0.095,"m":14.784},{"p":0.16,"m":14.77},{"p":0.17,"m":14.78},{"p":0.28,"m":14.829},{"p":0.3,"m":14.786},{"p":0.34,"m":14.79},{"p":0.215,"m":14.65},{"p":0.14,"m":14.651},{"p":0.095,"m":14.646},{"p":0.395,"m":14.63},{"p":0.43,"m":14.64},{"p":0.5,"m":14.626},{"p":0.572,"m":14.623},{"p":0.533,"m":14.812},{"p":0.57,"m":14.826},{"p":0.57,"m":14.84},{"p":0.6,"m":14.84},{"p":0.51,"m":14.749},{"p":0.85,"m":14.626},{"p":0.9,"m":14.62},{"p":0.93,"m":14.614},{"p":0.82,"m":14.803},{"p":0.825,"m":14.81},{"p":0.71,"m":14.798},{"p":0.715,"m":14.79},{"p":0.695,"m":14.78},{"p":0.95,"m":14.752},{"p":1.0,"m":14.84},
{"p":1.095,"m":14.784},{"p":1.16,"m":14.77},{"p":1.17,"m":14.78},{"p":1.28,"m":14.829},{"p":1.3,"m":14.786},{"p":1.34,"m":14.79},{"p":1.215,"m":14.65},{"p":1.14,"m":14.651},{"p":1.095,"m":14.646},{"p":1.395,"m":14.63},{"p":1.43,"m":14.64},{"p":1.5,"m":14.626},
{"p":1.003,"m":14.666},{"p":1.008,"m":14.688},{"p":1.013,"m":14.674},{"p":1.018,"m":14.696},{"p":1.023,"m":14.662},{"p":1.028,"m":14.685},{"p":1.033,"m":14.680},{"p":1.038,"m":14.704},{"p":1.043,"m":14.675},{"p":1.048,"m":14.698},{"p":1.053,"m":14.671},{"p":1.058,"m":14.712},{"p":1.063,"m":14.689},{"p":1.068,"m":14.696},{"p":1.073,"m":14.669},{"p":1.078,"m":14.701},{"p":1.083,"m":14.710},{"p":1.088,"m":14.685},{"p":1.093,"m":14.700},{"p":1.098,"m":14.677},{"p":1.103,"m":14.708},{"p":1.108,"m":14.697},{"p":1.113,"m":14.723},{"p":1.118,"m":14.689},{"p":1.123,"m":14.712},{"p":1.128,"m":14.698},{"p":1.133,"m":14.720},{"p":1.138,"m":14.687},{"p":1.143,"m":14.711},{"p":1.148,"m":14.706},{"p":1.153,"m":14.731},{"p":1.158,"m":14.702},{"p":1.163,"m":14.726},{"p":1.168,"m":14.701},{"p":1.173,"m":14.742},{"p":1.178,"m":14.720},{"p":1.183,"m":14.727},{"p":1.188,"m":14.701},{"p":1.193,"m":14.734},{"p":1.198,"m":14.743},{"p":1.203,"m":14.719},{"p":1.208,"m":14.734},{"p":1.213,"m":14.711},{"p":1.218,"m":14.741},{"p":1.223,"m":14.731},{"p":1.228,"m":14.756},{"p":1.233,"m":14.722},{"p":1.238,"m":14.744},{"p":1.243,"m":14.730},{"p":1.248,"m":14.752},{"p":1.253,"m":14.718},{"p":1.258,"m":14.741},{"p":1.263,"m":14.735},{"p":1.268,"m":14.759},{"p":1.273,"m":14.729},{"p":1.278,"m":14.751},{"p":1.283,"m":14.724},{"p":1.288,"m":14.764},{"p":1.293,"m":14.741},{"p":1.298,"m":14.747},{"p":1.303,"m":14.718},{"p":1.308,"m":14.747},{"p":1.313,"m":14.753},{"p":1.318,"m":14.725},{"p":1.323,"m":14.737},{"p":1.328,"m":14.711},{"p":1.333,"m":14.738},{"p":1.338,"m":14.724},{"p":1.343,"m":14.746},{"p":1.348,"m":14.709},{"p":1.353,"m":14.728},{"p":1.358,"m":14.710},{"p":1.363,"m":14.728},{"p":1.368,"m":14.690},{"p":1.373,"m":14.710},{"p":1.378,"m":14.701},{"p":1.383,"m":14.721},{"p":1.388,"m":14.688},{"p":1.393,"m":14.707},{"p":1.398,"m":14.677},{"p":1.403,"m":14.715},{"p":1.408,"m":14.689},{"p":1.413,"m":14.693},{"p":1.418,"m":14.663},{"p":1.423,"m":14.692},{"p":1.428,"m":14.698},{"p":1.433,"m":14.670},{"p":1.438,"m":14.682},{"p":1.443,"m":14.656},{"p":1.448,"m":14.684},{"p":1.453,"m":14.671},{"p":1.458,"m":14.695},{"p":1.463,"m":14.660},{"p":1.468,"m":14.681},{"p":1.473,"m":14.666},{"p":1.478,"m":14.686},{"p":1.483,"m":14.651},{"p":1.488,"m":14.674},{"p":1.493,"m":14.668},{"p":1.498,"m":14.691},
{"p":1.006,"m":14.666},{"p":1.011,"m":14.688},{"p":1.016,"m":14.682},{"p":1.021,"m":14.673},{"p":1.026,"m":14.701},{"p":1.031,"m":14.677},{"p":1.036,"m":14.688},{"p":1.041,"m":14.673},{"p":1.046,"m":14.697},{"p":1.051,"m":14.687},{"p":1.056,"m":14.702},{"p":1.061,"m":14.672},{"p":1.066,"m":14.685},{"p":1.071,"m":14.704},{"p":1.076,"m":14.675},{"p":1.081,"m":14.694},{"p":1.086,"m":14.703},{"p":1.091,"m":14.683},{"p":1.096,"m":14.701},{"p":1.101,"m":14.713},{"p":1.106,"m":14.696},{"p":1.111,"m":14.692},{"p":1.116,"m":14.712},{"p":1.121,"m":14.689},{"p":1.126,"m":14.712},{"p":1.131,"m":14.706},{"p":1.136,"m":14.697},{"p":1.141,"m":14.726},{"p":1.146,"m":14.703},{"p":1.151,"m":14.714},{"p":1.156,"m":14.700},{"p":1.161,"m":14.724},{"p":1.166,"m":14.715},{"p":1.171,"m":14.732},{"p":1.176,"m":14.702},{"p":1.181,"m":14.716},{"p":1.186,"m":14.735},{"p":1.191,"m":14.707},{"p":1.196,"m":14.727},{"p":1.201,"m":14.736},{"p":1.206,"m":14.717},{"p":1.211,"m":14.735},{"p":1.216,"m":14.747},{"p":1.221,"m":14.729},{"p":1.226,"m":14.726},{"p":1.231,"m":14.745},{"p":1.236,"m":14.722},{"p":1.241,"m":14.744},{"p":1.246,"m":14.738},{"p":1.251,"m":14.729},{"p":1.256,"m":14.757},{"p":1.261,"m":14.733},{"p":1.266,"m":14.743},{"p":1.271,"m":14.728},{"p":1.276,"m":14.751},{"p":1.281,"m":14.740},{"p":1.286,"m":14.755},{"p":1.291,"m":14.724},{"p":1.296,"m":14.737},{"p":1.301,"m":14.755},{"p":1.306,"m":14.724},{"p":1.311,"m":14.740},{"p":1.316,"m":14.746},{"p":1.321,"m":14.723},{"p":1.326,"m":14.738},{"p":1.331,"m":14.747},{"p":1.336,"m":14.726},{"p":1.341,"m":14.719},{"p":1.346,"m":14.735},{"p":1.351,"m":14.709},{"p":1.356,"m":14.728},{"p":1.361,"m":14.718},{"p":1.366,"m":14.705},{"p":1.371,"m":14.729},{"p":1.376,"m":14.702},{"p":1.381,"m":14.709},{"p":1.386,"m":14.690},{"p":1.391,"m":14.710},{"p":1.396,"m":14.696},{"p":1.401,"m":14.708},{"p":1.406,"m":14.675},{"p":1.411,"m":14.685},{"p":1.416,"m":14.701},{"p":1.421,"m":14.669},{"p":1.426,"m":14.685},{"p":1.431,"m":14.691},{"p":1.436,"m":14.668},{"p":1.441,"m":14.683},{"p":1.446,"m":14.692},{"p":1.451,"m":14.672},{"p":1.456,"m":14.666},{"p":1.461,"m":14.684},{"p":1.466,"m":14.660},{"p":1.471,"m":14.681},{"p":1.476,"m":14.674},{"p":1.481,"m":14.663},{"p":1.486,"m":14.690},{"p":1.491,"m":14.666},{"p":1.496,"m":14.676}],
"V":[{"p":0.0,"v":291,"lo":289,"hi":293},{"p":0.044,"v":284,"lo":277,"hi":291},{"p":0.07,"v":287,"lo":284,"hi":290},{"p":0.21,"v":273.5,"lo":270.5,"hi":276.5},{"p":0.258,"v":264.5,"lo":262,"hi":267},{"p":0.41,"v":238,"lo":236,"hi":240},{"p":0.507,"v":229,"lo":227,"hi":231},{"p":0.507,"v":225.5,"lo":223.5,"hi":227.5},{"p":0.507,"v":222.5,"lo":220.5,"hi":224.5},{"p":0.575,"v":235.5,"lo":232.5,"hi":238.5},{"p":0.667,"v":238,"lo":236,"hi":240},{"p":0.795,"v":264.5,"lo":259.5,"hi":269.5},{"p":0.825,"v":265,"lo":262.5,"hi":267.5},{"p":0.852,"v":274.5,"lo":272.5,"hi":276.5},{"p":0.926,"v":286.5,"lo":284.5,"hi":288.5},{"p":1.0,"v":291,"lo":288,"hi":294},{"p":1.044,"v":284,"lo":277,"hi":291},{"p":1.07,"v":287,"lo":284,"hi":290},{"p":1.21,"v":273.5,"lo":270.5,"hi":276.5},{"p":1.258,"v":264.5,"lo":262,"hi":267},{"p":1.41,"v":238,"lo":236,"hi":240}]
},
"vconcat":[
{"width":344,"height":86,
"title":{"text":"OGLE 052032.29 -694224.2  P=72.70 days","font":"Liberation Mono","fontSize":10.6,"fontWeight":"normal","color":"#111","anchor":"middle","frame":"group","offset":4},
"layer":[
{"data":{"name":"I"},"mark":{"type":"circle","color":"#ff0000","size":16,"opacity":1},
"encoding":{"x":{"field":"p","type":"quantitative","scale":{"domain":[0,1.5],"nice":false,"zero":false},"axis":null},
"y":{"field":"m","type":"quantitative","scale":{"domain":[14.3075,14.4005],"reverse":true,"nice":false,"zero":false},"axis":{"orient":"left","values":[14.32,14.34,14.36,14.38,14.4],"format":".2~f","ticks":false,"labelPadding":4,"title":"I","titleFont":"Liberation Serif","titleFontStyle":"italic","titleFontSize":14,"titleX":-41,"titleBaseline":"middle"}}}},
{"data":{"name":"T"},"mark":{"type":"point","opacity":0},"encoding":{"x":{"datum":0.5,"type":"quantitative","axis":{"orient":"bottom","values":[0.5,1],"tickSize":6,"offset":-6,"labels":false,"title":null}},"y":{"datum":14.35,"type":"quantitative","axis":{"orient":"left","values":[14.32,14.34,14.36,14.38],"tickSize":6,"offset":-6,"labels":false,"title":null}}}},
{"data":{"name":"T"},"mark":{"type":"point","opacity":0},"encoding":{"x":{"datum":0.5,"type":"quantitative","axis":{"orient":"bottom","values":[0.1,0.2,0.3,0.4,0.6,0.7,0.8,0.9,1.1,1.2,1.3,1.4],"tickSize":3,"offset":-3,"labels":false,"title":null}},"y":{"datum":14.35,"type":"quantitative","axis":{"orient":"left","values":[14.312,14.316,14.324,14.328,14.332,14.336,14.344,14.348,14.352,14.356,14.364,14.368,14.372,14.376,14.384,14.388,14.392,14.396],"tickSize":3,"offset":-3,"labels":false,"title":null}}}},
{"data":{"name":"T"},"mark":{"type":"point","opacity":0},"encoding":{"x":{"datum":0.5,"type":"quantitative","axis":{"orient":"top","values":[0.5,1],"tickSize":6,"offset":-6,"labels":false,"title":null}},"y":{"datum":14.35,"type":"quantitative","axis":{"orient":"right","values":[14.32,14.34,14.36,14.38],"tickSize":6,"offset":-6,"labels":false,"title":null}}}},
{"data":{"name":"T"},"mark":{"type":"point","opacity":0},"encoding":{"x":{"datum":0.5,"type":"quantitative","axis":{"orient":"top","values":[0.1,0.2,0.3,0.4,0.6,0.7,0.8,0.9,1.1,1.2,1.3,1.4],"tickSize":3,"offset":-3,"labels":false,"title":null}},"y":{"datum":14.35,"type":"quantitative","axis":{"orient":"right","values":[14.312,14.316,14.324,14.328,14.332,14.336,14.344,14.348,14.352,14.356,14.364,14.368,14.372,14.376,14.384,14.388,14.392,14.396],"tickSize":3,"offset":-3,"labels":false,"title":null}}}}
],
"resolve":{"axis":{"x":"independent","y":"independent"}}},
{"width":344,"height":88,
"layer":[
{"data":{"name":"R"},"mark":{"type":"circle","color":"#ff0000","size":15,"opacity":1},
"encoding":{"x":{"field":"p","type":"quantitative","scale":{"domain":[0,1.5],"nice":false,"zero":false},"axis":null},
"y":{"field":"m","type":"quantitative","scale":{"domain":[14.203,14.403],"reverse":true,"nice":false,"zero":false},"axis":{"orient":"left","values":[14.25,14.3,14.35,14.4],"format":".2~f","ticks":false,"labelPadding":4,"title":"Mʀ","titleFont":"Liberation Serif","titleFontStyle":"italic","titleFontSize":14,"titleX":-41,"titleBaseline":"middle"}}}},
{"data":{"name":"T"},"mark":{"type":"point","opacity":0},"encoding":{"x":{"datum":0.5,"type":"quantitative","axis":{"orient":"bottom","values":[0.5,1],"tickSize":6,"offset":-6,"labels":false,"title":null}},"y":{"datum":14.3,"type":"quantitative","axis":{"orient":"left","values":[14.25,14.3,14.35],"tickSize":6,"offset":-6,"labels":false,"title":null}}}},
{"data":{"name":"T"},"mark":{"type":"point","opacity":0},"encoding":{"x":{"datum":0.5,"type":"quantitative","axis":{"orient":"bottom","values":[0.1,0.2,0.3,0.4,0.6,0.7,0.8,0.9,1.1,1.2,1.3,1.4],"tickSize":3,"offset":-3,"labels":false,"title":null}},"y":{"datum":14.3,"type":"quantitative","axis":{"orient":"left","values":[14.21,14.22,14.23,14.24,14.26,14.27,14.28,14.29,14.31,14.32,14.33,14.34,14.36,14.37,14.38,14.39],"tickSize":3,"offset":-3,"labels":false,"title":null}}}},
{"data":{"name":"T"},"mark":{"type":"point","opacity":0},"encoding":{"x":{"datum":0.5,"type":"quantitative","axis":{"orient":"top","values":[0.5,1],"tickSize":6,"offset":-6,"labels":false,"title":null}},"y":{"datum":14.3,"type":"quantitative","axis":{"orient":"right","values":[14.25,14.3,14.35],"tickSize":6,"offset":-6,"labels":false,"title":null}}}},
{"data":{"name":"T"},"mark":{"type":"point","opacity":0},"encoding":{"x":{"datum":0.5,"type":"quantitative","axis":{"orient":"top","values":[0.1,0.2,0.3,0.4,0.6,0.7,0.8,0.9,1.1,1.2,1.3,1.4],"tickSize":3,"offset":-3,"labels":false,"title":null}},"y":{"datum":14.3,"type":"quantitative","axis":{"orient":"right","values":[14.21,14.22,14.23,14.24,14.26,14.27,14.28,14.29,14.31,14.32,14.33,14.34,14.36,14.37,14.38,14.39],"tickSize":3,"offset":-3,"labels":false,"title":null}}}}
],
"resolve":{"axis":{"x":"independent","y":"independent"}}},
{"width":344,"height":89,
"layer":[
{"data":{"name":"B"},"mark":{"type":"circle","color":"#ff0000","size":15,"opacity":1},
"encoding":{"x":{"field":"p","type":"quantitative","scale":{"domain":[0,1.5],"nice":false,"zero":false},"axis":null},
"y":{"field":"m","type":"quantitative","scale":{"domain":[14.6,14.85],"reverse":true,"nice":false,"zero":false},"axis":{"orient":"left","values":[14.65,14.7,14.75,14.8,14.85],"format":".2~f","ticks":false,"labelPadding":4,"title":"Mʙ","titleFont":"Liberation Serif","titleFontStyle":"italic","titleFontSize":14,"titleX":-41,"titleBaseline":"middle"}}}},
{"data":{"name":"T"},"mark":{"type":"point","opacity":0},"encoding":{"x":{"datum":0.5,"type":"quantitative","axis":{"orient":"bottom","values":[0.5,1],"tickSize":6,"offset":-6,"labels":false,"title":null}},"y":{"datum":14.7,"type":"quantitative","axis":{"orient":"left","values":[14.65,14.7,14.75,14.8],"tickSize":6,"offset":-6,"labels":false,"title":null}}}},
{"data":{"name":"T"},"mark":{"type":"point","opacity":0},"encoding":{"x":{"datum":0.5,"type":"quantitative","axis":{"orient":"bottom","values":[0.1,0.2,0.3,0.4,0.6,0.7,0.8,0.9,1.1,1.2,1.3,1.4],"tickSize":3,"offset":-3,"labels":false,"title":null}},"y":{"datum":14.7,"type":"quantitative","axis":{"orient":"left","values":[14.61,14.62,14.63,14.64,14.66,14.67,14.68,14.69,14.71,14.72,14.73,14.74,14.76,14.77,14.78,14.79,14.81,14.82,14.83,14.84],"tickSize":3,"offset":-3,"labels":false,"title":null}}}},
{"data":{"name":"T"},"mark":{"type":"point","opacity":0},"encoding":{"x":{"datum":0.5,"type":"quantitative","axis":{"orient":"top","values":[0.5,1],"tickSize":6,"offset":-6,"labels":false,"title":null}},"y":{"datum":14.7,"type":"quantitative","axis":{"orient":"right","values":[14.65,14.7,14.75,14.8],"tickSize":6,"offset":-6,"labels":false,"title":null}}}},
{"data":{"name":"T"},"mark":{"type":"point","opacity":0},"encoding":{"x":{"datum":0.5,"type":"quantitative","axis":{"orient":"top","values":[0.1,0.2,0.3,0.4,0.6,0.7,0.8,0.9,1.1,1.2,1.3,1.4],"tickSize":3,"offset":-3,"labels":false,"title":null}},"y":{"datum":14.7,"type":"quantitative","axis":{"orient":"right","values":[14.61,14.62,14.63,14.64,14.66,14.67,14.68,14.69,14.71,14.72,14.73,14.74,14.76,14.77,14.78,14.79,14.81,14.82,14.83,14.84],"tickSize":3,"offset":-3,"labels":false,"title":null}}}}
],
"resolve":{"axis":{"x":"independent","y":"independent"}}},
{"width":344,"height":87,
"layer":[
{"data":{"name":"V"},"mark":{"type":"rule","color":"#ff8c8c","strokeWidth":1},
"encoding":{"x":{"field":"p","type":"quantitative","scale":{"domain":[0,1.5],"nice":false,"zero":false},"axis":{"orient":"bottom","values":[0,0.5,1,1.5],"format":".1~f","ticks":false,"labelPadding":5,"title":"phase","titleFont":"Liberation Mono","titleFontSize":12,"titlePadding":2}},
"y":{"field":"lo","type":"quantitative","scale":{"domain":[213,300],"nice":false,"zero":false},"axis":{"orient":"left","values":[220,240,260,280,300],"format":"d","ticks":false,"labelPadding":4,"title":"vᵣ(km s⁻¹)","titleFont":"Liberation Serif","titleFontSize":13,"titleX":-38,"titleBaseline":"middle"}},
"y2":{"field":"hi"}}},
{"data":{"name":"V"},"mark":{"type":"tick","orient":"horizontal","color":"#ff8c8c","size":5,"thickness":1},
"encoding":{"x":{"field":"p","type":"quantitative","axis":null},"y":{"field":"lo","type":"quantitative","axis":null}}},
{"data":{"name":"V"},"mark":{"type":"tick","orient":"horizontal","color":"#ff8c8c","size":5,"thickness":1},
"encoding":{"x":{"field":"p","type":"quantitative","axis":null},"y":{"field":"hi","type":"quantitative","axis":null}}},
{"data":{"name":"V"},"mark":{"type":"square","color":"#e00000","size":6,"opacity":1},
"encoding":{"x":{"field":"p","type":"quantitative","axis":null},"y":{"field":"v","type":"quantitative","axis":null}}},
{"data":{"name":"T"},"mark":{"type":"point","opacity":0},"encoding":{"x":{"datum":0.5,"type":"quantitative","axis":{"orient":"bottom","values":[0.5,1],"tickSize":6,"offset":-6,"labels":false,"title":null}},"y":{"datum":250,"type":"quantitative","axis":{"orient":"left","values":[220,240,260,280],"tickSize":6,"offset":-6,"labels":false,"title":null}}}},
{"data":{"name":"T"},"mark":{"type":"point","opacity":0},"encoding":{"x":{"datum":0.5,"type":"quantitative","axis":{"orient":"bottom","values":[0.1,0.2,0.3,0.4,0.6,0.7,0.8,0.9,1.1,1.2,1.3,1.4],"tickSize":3,"offset":-3,"labels":false,"title":null}},"y":{"datum":250,"type":"quantitative","axis":{"orient":"left","values":[230,250,270,290],"tickSize":3,"offset":-3,"labels":false,"title":null}}}},
{"data":{"name":"T"},"mark":{"type":"point","opacity":0},"encoding":{"x":{"datum":0.5,"type":"quantitative","axis":{"orient":"top","values":[0.5,1],"tickSize":6,"offset":-6,"labels":false,"title":null}},"y":{"datum":250,"type":"quantitative","axis":{"orient":"right","values":[220,240,260,280],"tickSize":6,"offset":-6,"labels":false,"title":null}}}},
{"data":{"name":"T"},"mark":{"type":"point","opacity":0},"encoding":{"x":{"datum":0.5,"type":"quantitative","axis":{"orient":"top","values":[0.1,0.2,0.3,0.4,0.6,0.7,0.8,0.9,1.1,1.2,1.3,1.4],"tickSize":3,"offset":-3,"labels":false,"title":null}},"y":{"datum":250,"type":"quantitative","axis":{"orient":"right","values":[230,250,270,290],"tickSize":3,"offset":-3,"labels":false,"title":null}}}}
],
"resolve":{"axis":{"x":"independent","y":"independent"}}}
]
}
